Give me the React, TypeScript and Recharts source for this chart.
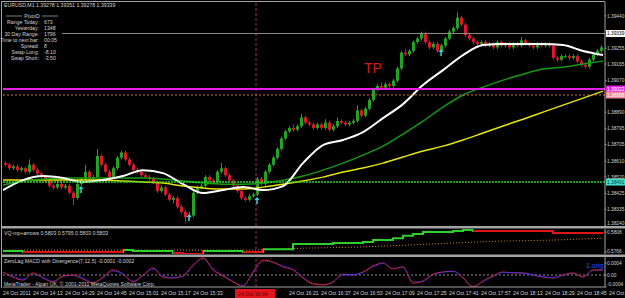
import React from 'react';
import { ComposedChart, Bar, Line, XAxis, YAxis, ReferenceLine, ReferenceDot } from 'recharts';

const FONT = "'Liberation Sans', Arial, sans-serif";
const TXT = '#d2d2d2';
const FRAME = '#a4a4a4';
const UP = '#22a322';
const DOWN = '#e0162e';
const MINUTES: [number, number] = [0, 301];

// EURUSD M1, shown here as 2-minute candles starting 24 Oct 13:58
const opens = [
  1.3860, 1.3859, 1.3857, 1.3858, 1.3856, 1.3857, 1.3855, 1.3859, 1.3856, 1.3854,
  1.3852, 1.3850, 1.3847, 1.3846, 1.3848, 1.3846, 1.3847, 1.3843, 1.3840, 1.3848,
  1.3851, 1.3855, 1.3851, 1.3852, 1.3864, 1.3859, 1.3855, 1.3852, 1.3857, 1.3863,
  1.3866, 1.3862, 1.3859, 1.3856, 1.3855, 1.3853, 1.3852, 1.3851, 1.3849, 1.3844,
  1.3846, 1.3842, 1.3839, 1.3840, 1.3835, 1.3832, 1.3829, 1.3830, 1.3843, 1.3846,
  1.3847, 1.3852, 1.3850, 1.3849, 1.3855, 1.3857, 1.3853, 1.3850, 1.3847, 1.3844,
  1.3840, 1.3839, 1.3841, 1.3842, 1.3851, 1.3848, 1.3855, 1.3859, 1.3863, 1.3868,
  1.3874, 1.3878, 1.3880, 1.3879, 1.3881, 1.3886, 1.3883, 1.3882, 1.3880, 1.3882,
  1.3880, 1.3883, 1.3879, 1.3881, 1.3884, 1.3883, 1.3882, 1.3883, 1.3884, 1.3890,
  1.3887, 1.3891, 1.3896, 1.3902, 1.3904, 1.3903, 1.3905, 1.3904, 1.3907, 1.3914,
  1.3923, 1.3922, 1.3924, 1.3929, 1.3931, 1.3934, 1.3929, 1.3926, 1.3928, 1.3924,
  1.3927, 1.3931, 1.3935, 1.3937, 1.3943, 1.3939, 1.3933, 1.3931, 1.3929, 1.3928,
  1.3929, 1.3927, 1.3928, 1.3926, 1.3929, 1.3927, 1.3928, 1.3926, 1.3928, 1.3927,
  1.3930, 1.3928, 1.3927, 1.3926, 1.3928, 1.3927, 1.3928, 1.3927, 1.3920, 1.3919,
  1.3921, 1.3921, 1.3920, 1.3921, 1.3918, 1.3916, 1.3915, 1.3919, 1.3922, 1.3924,
];
const highs = [
  1.3861, 1.3860, 1.3859, 1.3859, 1.3858, 1.3858, 1.3862, 1.3860, 1.3857, 1.3855,
  1.3853, 1.3851, 1.3848, 1.3849, 1.3849, 1.3848, 1.3848, 1.3844, 1.3849, 1.3852,
  1.3859, 1.3856, 1.3853, 1.3868, 1.3865, 1.3860, 1.3856, 1.3858, 1.3864, 1.3867,
  1.3867, 1.3863, 1.3860, 1.3857, 1.3856, 1.3854, 1.3853, 1.3852, 1.3850, 1.3847,
  1.3847, 1.3843, 1.3841, 1.3841, 1.3836, 1.3833, 1.3832, 1.3844, 1.3847, 1.3848,
  1.3853, 1.3853, 1.3851, 1.3856, 1.3860, 1.3858, 1.3854, 1.3851, 1.3848, 1.3845,
  1.3841, 1.3842, 1.3843, 1.3852, 1.3852, 1.3856, 1.3860, 1.3864, 1.3869, 1.3875,
  1.3879, 1.3881, 1.3882, 1.3882, 1.3888, 1.3887, 1.3884, 1.3883, 1.3883, 1.3883,
  1.3885, 1.3884, 1.3882, 1.3886, 1.3885, 1.3884, 1.3884, 1.3885, 1.3893, 1.3891,
  1.3892, 1.3897, 1.3903, 1.3905, 1.3906, 1.3906, 1.3906, 1.3908, 1.3915, 1.3924,
  1.3925, 1.3925, 1.3930, 1.3932, 1.3935, 1.3935, 1.3930, 1.3929, 1.3929, 1.3928,
  1.3932, 1.3936, 1.3938, 1.3946, 1.3944, 1.3940, 1.3934, 1.3932, 1.3930, 1.3930,
  1.3930, 1.3929, 1.3929, 1.3930, 1.3930, 1.3929, 1.3929, 1.3929, 1.3929, 1.3932,
  1.3931, 1.3929, 1.3928, 1.3929, 1.3929, 1.3929, 1.3929, 1.3928, 1.3921, 1.3922,
  1.3922, 1.3922, 1.3922, 1.3922, 1.3919, 1.3917, 1.3920, 1.3923, 1.3925, 1.3927,
];
const lows = [
  1.3858, 1.3856, 1.3856, 1.3855, 1.3855, 1.3854, 1.3854, 1.3855, 1.3853, 1.3851,
  1.3849, 1.3846, 1.3845, 1.3845, 1.3845, 1.3845, 1.3842, 1.3836, 1.3839, 1.3847,
  1.3850, 1.3850, 1.3850, 1.3851, 1.3858, 1.3854, 1.3851, 1.3851, 1.3856, 1.3862,
  1.3861, 1.3858, 1.3855, 1.3854, 1.3852, 1.3851, 1.3850, 1.3848, 1.3843, 1.3843,
  1.3841, 1.3838, 1.3837, 1.3834, 1.3831, 1.3826, 1.3828, 1.3829, 1.3842, 1.3845,
  1.3846, 1.3849, 1.3848, 1.3848, 1.3854, 1.3852, 1.3849, 1.3846, 1.3843, 1.3839,
  1.3838, 1.3838, 1.3840, 1.3841, 1.3847, 1.3847, 1.3854, 1.3858, 1.3862, 1.3867,
  1.3873, 1.3877, 1.3878, 1.3878, 1.3880, 1.3882, 1.3881, 1.3879, 1.3879, 1.3879,
  1.3879, 1.3878, 1.3878, 1.3880, 1.3882, 1.3881, 1.3881, 1.3882, 1.3883, 1.3886,
  1.3886, 1.3890, 1.3895, 1.3901, 1.3902, 1.3902, 1.3903, 1.3903, 1.3906, 1.3913,
  1.3921, 1.3921, 1.3923, 1.3928, 1.3930, 1.3928, 1.3925, 1.3925, 1.3923, 1.3923,
  1.3926, 1.3930, 1.3934, 1.3936, 1.3938, 1.3932, 1.3930, 1.3928, 1.3927, 1.3927,
  1.3926, 1.3926, 1.3925, 1.3925, 1.3926, 1.3926, 1.3925, 1.3925, 1.3926, 1.3926,
  1.3927, 1.3926, 1.3925, 1.3925, 1.3926, 1.3926, 1.3926, 1.3919, 1.3918, 1.3918,
  1.3920, 1.3919, 1.3919, 1.3917, 1.3915, 1.3914, 1.3914, 1.3918, 1.3921, 1.3923,
];
const closes = [
  1.3859, 1.3857, 1.3858, 1.3856, 1.3857, 1.3855, 1.3859, 1.3856, 1.3854, 1.3852,
  1.3850, 1.3847, 1.3846, 1.3848, 1.3846, 1.3847, 1.3843, 1.3840, 1.3848, 1.3851,
  1.3855, 1.3851, 1.3852, 1.3864, 1.3859, 1.3855, 1.3852, 1.3857, 1.3863, 1.3866,
  1.3862, 1.3859, 1.3856, 1.3855, 1.3853, 1.3852, 1.3851, 1.3849, 1.3844, 1.3846,
  1.3842, 1.3839, 1.3840, 1.3835, 1.3832, 1.3829, 1.3830, 1.3843, 1.3846, 1.3847,
  1.3852, 1.3850, 1.3849, 1.3855, 1.3857, 1.3853, 1.3850, 1.3847, 1.3844, 1.3840,
  1.3839, 1.3841, 1.3842, 1.3851, 1.3848, 1.3855, 1.3859, 1.3863, 1.3868, 1.3874,
  1.3878, 1.3880, 1.3879, 1.3881, 1.3886, 1.3883, 1.3882, 1.3880, 1.3882, 1.3880,
  1.3883, 1.3879, 1.3881, 1.3884, 1.3883, 1.3882, 1.3883, 1.3884, 1.3890, 1.3887,
  1.3891, 1.3896, 1.3902, 1.3904, 1.3903, 1.3905, 1.3904, 1.3907, 1.3914, 1.3923,
  1.3922, 1.3924, 1.3929, 1.3931, 1.3934, 1.3929, 1.3926, 1.3928, 1.3924, 1.3927,
  1.3931, 1.3935, 1.3937, 1.3943, 1.3939, 1.3933, 1.3931, 1.3929, 1.3928, 1.3929,
  1.3927, 1.3928, 1.3926, 1.3929, 1.3927, 1.3928, 1.3926, 1.3928, 1.3927, 1.3930,
  1.3928, 1.3927, 1.3926, 1.3928, 1.3927, 1.3928, 1.3927, 1.3920, 1.3919, 1.3921,
  1.3921, 1.3920, 1.3921, 1.3918, 1.3916, 1.3915, 1.3919, 1.3922, 1.3924, 1.3926,
];

// moving averages, one reading every 10 minutes
const maWhite = [
  1.38445, 1.38502, 1.38525, 1.38514, 1.38491, 1.38502, 1.38525, 1.38559, 1.38542, 1.38479,
  1.38428, 1.38445, 1.38462, 1.38445, 1.38468, 1.38599, 1.38702, 1.38731, 1.38776, 1.38856,
  1.38936, 1.39045, 1.39130, 1.39216, 1.39273, 1.39279, 1.39279, 1.39279, 1.39273, 1.39239,
  1.39216,
];
const maGreen = [
  1.38474, 1.38497, 1.38508, 1.38514, 1.38514, 1.38514, 1.38514, 1.38514, 1.38508, 1.38497,
  1.38485, 1.38479, 1.38479, 1.38485, 1.38502, 1.38525, 1.38559, 1.38599, 1.38645, 1.38696,
  1.38765, 1.38839, 1.38919, 1.38988, 1.39033, 1.39073, 1.39107, 1.39136, 1.39147, 1.39165,
  1.39182,
];
const maYellow = [
  1.38502, 1.38502, 1.38502, 1.38502, 1.38502, 1.38502, 1.38497, 1.38491, 1.38485, 1.38468,
  1.38457, 1.38451, 1.38451, 1.38462, 1.38479, 1.38497, 1.38519, 1.38548, 1.38571, 1.38599,
  1.38634, 1.38668, 1.38696, 1.38731, 1.38771, 1.38811, 1.38850, 1.38890, 1.38930, 1.38970,
  1.39010,
];

// levels drawn on the chart
const bidPrice = 1.39339;
const pivotLevel = 1.39022;
const dottedLevel = 1.38988;
const greenLevel = 1.38491;
const markerMinute = 126.5;
const arrowMinutes = [39, 93, 127, 219];
const arrowPrices = [1.38468, 1.38308, 1.38405, 1.3925];
const tpMinute = 185;
const tpPrice = 1.39142;

// labels hidden behind the price boxes are left out, as the terminal does
const priceTicks = [
  1.3944, 1.39255, 1.39165, 1.3907, 1.3889,
  1.38795, 1.38705, 1.3861, 1.3852, 1.38425, 1.38335, 1.3824,
];

// VQ sub-window, every 5 minutes
const vqValues = [
  0.5768, 0.5768, 0.5766, 0.5766, 0.5766, 0.5766, 0.5766, 0.5766, 0.5766, 0.5766,
  0.5766, 0.5766, 0.5770, 0.5768, 0.5768, 0.5768, 0.5768, 0.5764, 0.5762, 0.5762,
  0.5768, 0.5768, 0.5768, 0.5768, 0.5766, 0.5766, 0.5772, 0.5772, 0.5772, 0.5783,
  0.5783, 0.5783, 0.5783, 0.5785, 0.5785, 0.5785, 0.5787, 0.5791, 0.5791, 0.5795,
  0.5800, 0.5804, 0.5808, 0.5808, 0.5808, 0.5810, 0.5812, 0.5810, 0.5810, 0.5810,
  0.5810, 0.5810, 0.5810, 0.5810, 0.5810, 0.5806, 0.5806, 0.5806, 0.5806, 0.5806,
  0.5806,
];
const vqTrend = [
  'up', 'up', 'down', 'down', 'down', 'down', 'down', 'down', 'down', 'down',
  'down', 'down', 'up', 'up', 'up', 'up', 'up', 'down', 'down', 'down',
  'up', 'up', 'up', 'up', 'down', 'down', 'up', 'up', 'up', 'up',
  'up', 'up', 'up', 'up', 'up', 'up', 'up', 'up', 'up', 'up',
  'up', 'up', 'up', 'up', 'up', 'up', 'up', 'down', 'down', 'down',
  'down', 'down', 'down', 'down', 'down', 'down', 'down', 'down', 'down', 'down',
  'down',
];
// VQ signal, every 25 minutes
const vqSignal = [
  0.5770, 0.5770, 0.5770, 0.5770, 0.5770, 0.5770, 0.5774,
  0.5776, 0.5780, 0.5785, 0.5789, 0.5791, 0.5795,
];
const vqTicks = [0.5808, 0.5766];

// ZeroLag MACD, every 5 minutes
const macdMain = [
  0.0001, -0.00007, -0.00017, 0.00007, -0.0001, -0.00023, -0.00003, 0, -0.00013, -0.00027,
  -0.00007, 0.00017, 0.00003, -0.00023, 0, 0.00023, -0.00007, -0.0001, -0.00003, 0.00033,
  0.00057, 0.00017, -0.00003, -0.00023, -0.00037, 0.0001, 0.0005, 0.00043, 0.00027, 0.00017,
  -0.0001, -0.0003, -0.00033, -0.00023, 0.00003, 0, 0.0001, 0.0003, 0.0004, 0.0002,
  0.00027, -0.00027, -0.0002, 0.00003, 0.0001, 0.00013, -0.0001, -0.0004, -0.0002, -0.00003,
  0.0001, 0.00007, 0.00007, 0, -0.00007, -0.0001, 0, 0.00007, -0.00007, 0.00017,
  0.00017,
];
const macdSignal = [
  0.00008, -0.00004, -0.00014, 0.00002, -0.00008, -0.0002, -0.00006, -0.00002, -0.0001, -0.00024,
  -0.0001, 0.00012, 0.00005, -0.00019, -0.00003, 0.0002, -0.00003, -0.00009, -0.00004, 0.00028,
  0.00053, 0.00022, 0, -0.0002, -0.00034, 0.00005, 0.00045, 0.00044, 0.0003, 0.0002,
  -0.00006, -0.00027, -0.00032, -0.00025, 0, 0.00001, 0.00008, 0.00026, 0.00038, 0.00023,
  0.00026, -0.00022, -0.00021, 0, 0.00009, 0.00012, -0.00007, -0.00036, -0.00023, -0.00005,
  0.00008, 0.00008, 0.00006, 0.00001, -0.00005, -0.00009, -0.00002, 0.00005, -0.00005, 0.00014,
  0.00016,
];
const macdTicks = [0.0004, 0, -0.0004];

// 15:49 and 16:05 sit under the red time box of the vertical line
const timeTicks = [0, 15, 31, 47, 63, 79, 95, 143, 159, 175, 191, 207, 223, 239, 255, 271, 287, 303];
const timeLabels = [
  '24 Oct 2011', '24 Oct 14:13', '24 Oct 14:29', '24 Oct 14:45', '24 Oct 15:01', '24 Oct 15:17',
  '24 Oct 15:33', '24 Oct 16:21', '24 Oct 16:37', '24 Oct 16:53',
  '24 Oct 17:09', '24 Oct 17:25', '24 Oct 17:41', '24 Oct 17:57', '24 Oct 18:13', '24 Oct 18:29',
  '24 Oct 18:45', '24 Oct 19:01',
];

const pivotRows = [
  ['Range Today:', '673'],
  ['Yesterday:', '1348'],
  ['30 Day Range:', '1796'],
  ['Time to next bar:', '00:05'],
  ['Spread:', '8'],
  ['Swap Long:', '-8.10'],
  ['Swap Short:', '-3.50'],
];

const candleData = closes.map((c, i) => ({ m: 2 * i + 1, open: opens[i], high: highs[i], low: lows[i], close: c }));
const series = (step: number, vals: number[]) => vals.map((v, i) => ({ m: i * step, v }));

function Candle(props: any) {
  const { x, y, width, height, payload } = props;
  if (!payload) return null;
  const { open, close, high, low } = payload;
  const color = close >= open ? UP : DOWN;
  const h = Math.abs(height);
  const top = Math.min(y, y + height);
  const k = h / (high - low || 1e-9);
  const cx = Math.round(x + width / 2);
  const bodyTop = top + (high - Math.max(open, close)) * k;
  const bodyH = Math.max(1, Math.abs(open - close) * k);
  return (
    <g>
      <rect x={cx} y={top} width={1} height={Math.max(1, h)} fill={color} />
      <rect x={cx - 1} y={bodyTop} width={3} height={bodyH} fill={color} />
    </g>
  );
}

function PriceBox(props: any) {
  const { viewBox, text, bg, fg } = props;
  if (!viewBox) return null;
  const x = viewBox.x + viewBox.width + 1;
  return (
    <g>
      <rect x={x} y={viewBox.y - 3.5} width={19} height={7} fill={bg} />
      <text x={x + 1} y={viewBox.y + 1.7} fontSize={4.8} fill={fg} fontFamily={FONT}>{text}</text>
    </g>
  );
}

function TimeBox(props: any) {
  const { viewBox, text } = props;
  if (!viewBox) return null;
  const bottom = viewBox.y + viewBox.height;
  return (
    <g>
      <rect x={viewBox.x - 21} y={bottom + 2} width={40} height={9} fill="#e2141c" />
      <text x={viewBox.x - 18} y={bottom + 8.6} fontSize={5.2} fill="#640000" fontFamily={FONT}>{text}</text>
    </g>
  );
}

function ArrowUp(props: any) {
  const { cx, cy } = props;
  return (
    <g fill="#38d4e4">
      <path d={`M${cx},${cy} L${cx - 2.5},${cy + 3} L${cx + 2.5},${cy + 3} Z`} />
      <rect x={cx - 0.75} y={cy + 3} width={1.5} height={4} />
    </g>
  );
}

// the label of the lowest tick is lifted so the pane separator does not hide it
const axisTick = (fmt: (v: number) => string, bottom: number) => (p: any) => (
  <text x={p.x} y={Math.min(p.y + 1.7, bottom - 1)} fontSize={4.8} fill={TXT} fontFamily={FONT}>{fmt(p.payload.value)}</text>
);

function TimeTick(p: any) {
  const i = timeTicks.indexOf(p.payload.value);
  return (
    <text x={p.x} y={p.y + 8} fontSize={5.2} fill={TXT} fontFamily={FONT}>{timeLabels[i]}</text>
  );
}

const rightAxis = { orientation: 'right' as const, width: 20, tickSize: 1.5, tickMargin: 0.5, interval: 0, allowDataOverflow: true, axisLine: { stroke: FRAME }, tickLine: { stroke: FRAME } };

function MainChart() {
  return (
    <ComposedChart width={625} height={227} data={candleData} margin={{ top: 2, right: 0, bottom: 1, left: 3 }}>
      <XAxis type="number" dataKey="m" domain={MINUTES} hide allowDataOverflow />
      <YAxis {...rightAxis} domain={[1.3824, 1.39519]} ticks={priceTicks} tick={axisTick((v) => v.toFixed(5), 226)} />
      <ReferenceLine x={markerMinute} stroke="#9b2d6e" strokeDasharray="3 2" />
      <Bar dataKey={(d: any) => [d.low, d.high]} barSize={3} shape={<Candle />} isAnimationActive={false} />
      <Line data={series(10, maYellow)} dataKey="v" type="monotone" stroke="#e6e600" strokeWidth={1.5} dot={false} isAnimationActive={false} />
      <Line data={series(10, maGreen)} dataKey="v" type="monotone" stroke="#139a13" strokeWidth={1.5} dot={false} isAnimationActive={false} />
      <Line data={series(10, maWhite)} dataKey="v" type="monotone" stroke="#ffffff" strokeWidth={2} dot={false} isAnimationActive={false} />
      <ReferenceLine y={bidPrice} stroke="#8c8c8c" label={<PriceBox text={bidPrice.toFixed(5)} bg="#ffffff" fg="#000000" />} />
      <ReferenceLine y={pivotLevel} stroke="#e61ee6" strokeWidth={2} label={<PriceBox text={pivotLevel.toFixed(5)} bg="#e61ee6" fg="#ffffff" />} />
      <ReferenceLine y={dottedLevel} stroke="#c8783c" strokeDasharray="2 2" label={<PriceBox text={dottedLevel.toFixed(5)} bg="#f08a9a" fg="#ffffff" />} />
      <ReferenceLine y={greenLevel} stroke="#2ad22a" strokeWidth={1.5} strokeDasharray="2 1" label={<PriceBox text={greenLevel.toFixed(5)} bg="#3ee0cc" fg="#003a34" />} />
      {arrowMinutes.map((m, i) => (
        <ReferenceDot key={m} x={m} y={arrowPrices[i]} r={3} shape={<ArrowUp />} />
      ))}
      <ReferenceDot x={tpMinute} y={tpPrice} r={0} shape={(p: any) => (
        <text x={p.cx} y={p.cy + 5} textAnchor="middle" fontSize={14} fill="#d81a1a" fontFamily={FONT}>TP</text>
      )} />
    </ComposedChart>
  );
}

function VqChart() {
  const last = vqTrend.length - 1;
  return (
    <ComposedChart width={625} height={27} margin={{ top: 1, right: 0, bottom: 1, left: 3 }}>
      <defs>
        <linearGradient id="vqTrend" x1="0" y1="0" x2="1" y2="0">
          {vqTrend.flatMap((t, i) => {
            const c = t === 'up' ? '#2ccf2c' : '#e01414';
            return [
              <stop key={`a${i}`} offset={i / last} stopColor={c} />,
              <stop key={`b${i}`} offset={Math.min(1, (i + 1) / last)} stopColor={c} />,
            ];
          })}
        </linearGradient>
      </defs>
      <XAxis type="number" dataKey="m" domain={MINUTES} hide allowDataOverflow />
      <YAxis {...rightAxis} domain={[0.57618, 0.58143]} ticks={vqTicks} tick={axisTick((v) => v.toFixed(4), 26)} />
      <ReferenceLine x={markerMinute} stroke="#9b2d6e" strokeDasharray="3 2" />
      <Line data={series(25, vqSignal)} dataKey="v" type="linear" stroke="#d08a28" strokeDasharray="1 2" dot={false} isAnimationActive={false} />
      <Line data={series(5, vqValues)} dataKey="v" type="stepAfter" stroke="url(#vqTrend)" strokeWidth={2} dot={false} isAnimationActive={false} />
    </ComposedChart>
  );
}

function MacdChart() {
  return (
    <ComposedChart width={625} height={42} margin={{ top: 1, right: 0, bottom: 0, left: 3 }}>
      <XAxis type="number" dataKey="m" domain={MINUTES} allowDataOverflow ticks={timeTicks} interval={0}
        height={11} tickSize={0} tickMargin={0} tickLine={false} axisLine={{ stroke: FRAME }} tick={<TimeTick />} />
      <YAxis {...rightAxis} domain={[-0.0004, 0.0006]} ticks={macdTicks} tick={axisTick((v) => (v === 0 ? '0.00' : v.toFixed(4)), 31)} />
      <ReferenceLine y={0} stroke="#8c8c8c" strokeDasharray="2 2" />
      <Line data={series(5, macdMain)} dataKey="v" type="monotone" stroke="#e2203a" dot={false} isAnimationActive={false} />
      <Line data={series(5, macdSignal)} dataKey="v" type="monotone" stroke="#3040ff" strokeDasharray="1 1" dot={false} isAnimationActive={false} />
      <ReferenceLine x={markerMinute} stroke="#9b2d6e" strokeDasharray="3 2" label={<TimeBox text="24 Oct 16:04" />} />
    </ComposedChart>
  );
}

function Overlay() {
  const t = { fontSize: 5.2, fill: TXT, fontFamily: FONT };
  return (
    <svg width={625} height={298} style={{ position: 'absolute', left: 0, top: 0, pointerEvents: 'none' }}>
      <line x1={1} y1={1.5} x2={605} y2={1.5} stroke={FRAME} />
      <line x1={1.5} y1={1} x2={1.5} y2={288} stroke={FRAME} />
      <rect x={1} y={226} width={624} height={2.5} fill={FRAME} />
      <rect x={1} y={254.5} width={624} height={2.5} fill={FRAME} />
      <text x={4} y={7} {...t}>EURUSD,M1  1.39278 1.39351 1.39278 1.39339</text>
      <rect x={3} y={11} width={59} height={52} fill="#000" />
      <line x1={6} y1={16} x2={22} y2={16} stroke={TXT} strokeWidth={0.6} />
      <line x1={42} y1={16} x2={58} y2={16} stroke={TXT} strokeWidth={0.6} />
      <text x={32} y={17.8} textAnchor="middle" {...t}>PivotD</text>
      {pivotRows.map(([label, value], i) => (
        <g key={label}>
          <text x={39} y={23.8 + i * 6} textAnchor="end" {...t}>{label}</text>
          <text x={44} y={23.8 + i * 6} {...t}>{value}</text>
        </g>
      ))}
      <text x={4} y={235} {...t}>VQ-mp+arrows 0.5803 0.5795 0.5803 0.5803</text>
      <text x={4} y={263} {...t}>ZeroLag MACD with Divergence(7,12,5) -0.0001 -0.0002</text>
      <text x={4} y={286} {...t}>MetaTrader - Alpari UK, © 2001-2011 MetaQuotes Software Corp.</text>
      <text x={586} y={268} fontSize={7} fill="#3050ff" fontFamily={FONT}>1.orig</text>
    </svg>
  );
}

export default function App() {
  return (
    <div style={{ position: 'absolute', left: 0, top: 0, width: 625, height: 298, background: '#000', overflow: 'hidden' }}>
      <div style={{ position: 'absolute', left: 0, top: 0 }}><MainChart /></div>
      <div style={{ position: 'absolute', left: 0, top: 228 }}><VqChart /></div>
      <div style={{ position: 'absolute', left: 0, top: 256 }}><MacdChart /></div>
      <Overlay />
    </div>
  );
}
